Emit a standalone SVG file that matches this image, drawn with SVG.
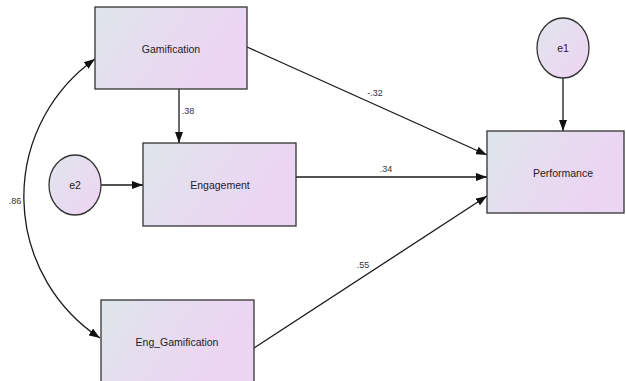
<svg xmlns="http://www.w3.org/2000/svg" width="626" height="381" viewBox="0 0 626 381">
  <defs>
    <linearGradient id="boxFill" x1="0" y1="0" x2="1" y2="0.35">
      <stop offset="0" stop-color="#dee6eb"/>
      <stop offset="0.6" stop-color="#e8daf0"/>
      <stop offset="1" stop-color="#ecd4f3"/>
    </linearGradient>
    <linearGradient id="ellFill" x1="0" y1="0" x2="1" y2="1">
      <stop offset="0" stop-color="#e0e6ec"/>
      <stop offset="1" stop-color="#eed3f3"/>
    </linearGradient>
    <marker id="arr" viewBox="0 0 11 8" refX="11" refY="4" markerWidth="11" markerHeight="8" markerUnits="userSpaceOnUse" orient="auto-start-reverse">
      <path d="M0,0 L11,4 L0,8 z" fill="#111"/>
    </marker>
    <style>
      .box { fill: url(#boxFill); stroke: #333; stroke-width: 1.3; }
      .ell { fill: url(#ellFill); stroke: #333; stroke-width: 1.3; }
      .lbl { font-family: "Liberation Sans", Arial, sans-serif; font-size: 10.5px; fill: #222; text-anchor: middle; dominant-baseline: central; }
      .coef { font-family: "Liberation Sans", Arial, sans-serif; font-size: 9px; fill: #333; text-anchor: middle; dominant-baseline: central; }
      .conn { stroke: #1a1a1a; stroke-width: 1.3; fill: none; marker-end: url(#arr); }
    </style>
  </defs>

  <g id="connectors">
    <line class="conn" x1="247" y1="47" x2="487" y2="155"/>
    <line class="conn" x1="296" y1="177" x2="487" y2="177"/>
    <line class="conn" x1="254" y1="348" x2="487" y2="196"/>
    <line class="conn" x1="179" y1="89" x2="179" y2="143"/>
    <line class="conn" x1="101" y1="185" x2="143" y2="185"/>
    <line class="conn" x1="563" y1="78" x2="563" y2="131"/>
    <path class="conn" style="marker-start: url(#arr)" d="M95,59 A169,169 0 0 0 100,338"/>
    <text class="coef" x="375" y="93">-.32</text>
    <text class="coef" x="386" y="169">.34</text>
    <text class="coef" x="363" y="265">.55</text>
    <text class="coef" x="188" y="111">.38</text>
    <text class="coef" x="15" y="201">.86</text>
  </g>

  <g id="gamification">
    <rect class="box" x="95" y="7" width="152" height="82"/>
    <text class="lbl" x="171" y="49">Gamification</text>
  </g>
  <g id="engagement">
    <rect class="box" x="143" y="143" width="153" height="83"/>
    <text class="lbl" x="220" y="185">Engagement</text>
  </g>
  <g id="eng_gamification">
    <rect class="box" x="101" y="300" width="153" height="84"/>
    <text class="lbl" x="177" y="342">Eng_Gamification</text>
  </g>
  <g id="performance">
    <rect class="box" x="487" y="131" width="137" height="82"/>
    <text class="lbl" x="563" y="173">Performance</text>
  </g>
  <g id="e1">
    <ellipse class="ell" cx="563" cy="48" rx="26" ry="30"/>
    <text class="lbl" x="563" y="48">e1</text>
  </g>
  <g id="e2">
    <ellipse class="ell" cx="75" cy="185" rx="26" ry="30"/>
    <text class="lbl" x="75" y="185">e2</text>
  </g>
</svg>
